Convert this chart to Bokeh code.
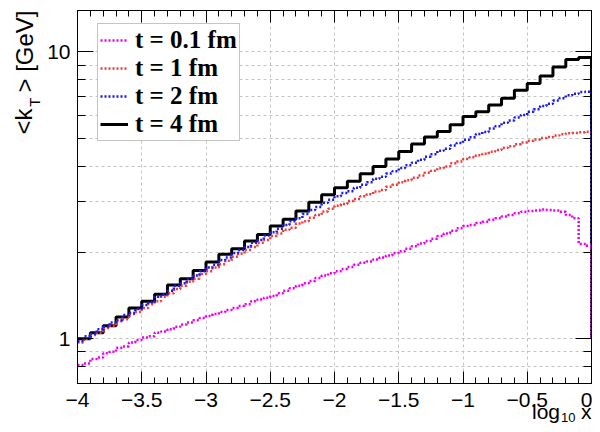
import numpy as np
from bokeh.plotting import figure
from bokeh.models import (Range1d, LogAxis, LinearAxis, SingleIntervalTicker, FixedTicker,
                          Legend, LegendItem, Title, CustomJSTickFormatter)
from bokeh.embed import file_html
from bokeh.resources import INLINE

# ---------------- data ----------------
x_min, x_max = -4.0, 0.0
hist_baseline = 1.0
series_labels = ["t = 0.1 fm", "t = 1 fm", "t = 2 fm", "t = 4 fm"]

kt_t01 = [0.81, 0.82, 0.85, 0.86, 0.89, 0.90, 0.93, 0.94, 0.97, 0.99,
          1.01, 1.02, 1.05, 1.06, 1.08, 1.10, 1.12, 1.14, 1.16, 1.18,
          1.20, 1.22, 1.24, 1.26, 1.28, 1.30, 1.32, 1.35, 1.37, 1.39,
          1.41, 1.44, 1.47, 1.50, 1.53, 1.56, 1.59, 1.63, 1.66, 1.69,
          1.72, 1.75, 1.78, 1.81, 1.84, 1.86, 1.89, 1.92, 1.95, 1.99,
          2.02, 2.06, 2.10, 2.15, 2.19, 2.23, 2.28, 2.33, 2.38, 2.43,
          2.47, 2.49, 2.53, 2.56, 2.60, 2.63, 2.67, 2.70, 2.74, 2.77,
          2.79, 2.80, 2.82, 2.81, 2.80, 2.77, 2.70, 2.63, 2.14, 2.11]

kt_t1 = [0.97, 1.00, 1.03, 1.05, 1.09, 1.11, 1.15, 1.17, 1.22, 1.24,
         1.28, 1.32, 1.35, 1.40, 1.44, 1.49, 1.53, 1.58, 1.62, 1.68,
         1.72, 1.77, 1.82, 1.87, 1.93, 1.98, 2.04, 2.09, 2.16, 2.21,
         2.28, 2.33, 2.40, 2.44, 2.52, 2.57, 2.64, 2.70, 2.78, 2.84,
         2.91, 2.95, 3.02, 3.07, 3.14, 3.19, 3.26, 3.30, 3.39, 3.44,
         3.51, 3.57, 3.64, 3.71, 3.79, 3.85, 3.93, 3.99, 4.09, 4.15,
         4.23, 4.29, 4.36, 4.42, 4.49, 4.55, 4.63, 4.69, 4.77, 4.83,
         4.90, 4.95, 5.01, 5.05, 5.11, 5.16, 5.21, 5.22, 5.25, 5.27]

kt_t2 = [0.98, 1.02, 1.04, 1.08, 1.10, 1.14, 1.16, 1.21, 1.23, 1.27,
         1.31, 1.34, 1.40, 1.43, 1.47, 1.53, 1.56, 1.62, 1.66, 1.72,
         1.77, 1.81, 1.88, 1.92, 1.99, 2.04, 2.09, 2.16, 2.21, 2.29,
         2.35, 2.42, 2.49, 2.57, 2.63, 2.72, 2.81, 2.88, 2.98, 3.05,
         3.14, 3.22, 3.27, 3.36, 3.44, 3.51, 3.61, 3.67, 3.77, 3.84,
         3.94, 4.03, 4.11, 4.21, 4.31, 4.40, 4.52, 4.60, 4.72, 4.81,
         4.94, 5.04, 5.17, 5.26, 5.41, 5.51, 5.66, 5.77, 5.91, 6.03,
         6.19, 6.31, 6.48, 6.60, 6.77, 6.90, 7.06, 7.15, 7.25, 7.27]

kt_t4 = [1.00, 1.05, 1.11, 1.19, 1.28, 1.35, 1.43, 1.54, 1.62, 1.73,
         1.85, 1.97, 2.06, 2.19, 2.31, 2.47, 2.61, 2.79, 2.99, 3.18,
         3.36, 3.54, 3.76, 3.99, 4.23, 4.50, 4.78, 5.05, 5.28, 5.57,
         5.95, 6.19, 6.53, 6.89, 7.36, 7.77, 8.24, 8.87, 9.41, 9.56]

y_major = [1, 10]
y_minor = [0.8, 0.9, 2, 3, 4, 5, 6, 7, 8, 9]
x_tick_labels = {-4: "\u22124", -3.5: "\u22123.5", -3: "\u22123", -2.5: "\u22122.5",
                 -2: "\u22122", -1.5: "\u22121.5", -1: "\u22121", -0.5: "\u22120.5", 0: "0"}

# ---------------- figure ----------------
p = figure(width=592, height=424, x_range=Range1d(x_min, x_max),
           y_range=Range1d(0.698, 13.95), y_axis_type="log",
           output_backend="svg", toolbar_location=None,
           min_border_left=77, min_border_right=1, min_border_top=10,
           min_border_bottom=41)
p.outline_line_color = "black"
p.background_fill_color = "white"
p.border_fill_color = "white"

xticker = SingleIntervalTicker(interval=0.5, num_minor_ticks=5)
yticker = FixedTicker(ticks=y_major, minor_ticks=y_minor)

SANS = "Liberation Sans"

xa = p.xaxis[0]
xa.ticker = xticker
xa.major_label_overrides = x_tick_labels
xa.major_tick_in = 12
xa.major_tick_out = 0
xa.minor_tick_in = 6
xa.minor_tick_out = 0
xa.major_label_text_font = SANS
xa.major_label_text_font_size = "21px"
xa.major_label_text_color = "black"
xa.major_label_standoff = 9
xa.axis_line_color = "black"

ya = p.yaxis[0]
ya.ticker = yticker
ya.major_label_overrides = {1: "1", 10: "10"}
ya.major_tick_in = 16
ya.major_tick_out = 0
ya.minor_tick_in = 8
ya.minor_tick_out = 0
ya.major_label_text_font = SANS
ya.major_label_text_font_size = "21px"
ya.major_label_text_color = "black"
ya.major_label_standoff = 7
ya.axis_line_color = "black"

blank = CustomJSTickFormatter(code="return ''")
top_axis = LinearAxis(ticker=xticker, formatter=blank, major_tick_in=12, major_tick_out=0,
                      minor_tick_in=6, minor_tick_out=0,
                      major_label_text_font_size="1px", major_label_standoff=0)
p.add_layout(top_axis, "above")
right_axis = LogAxis(ticker=yticker, formatter=blank, major_tick_in=16, major_tick_out=0,
                     minor_tick_in=8, minor_tick_out=0,
                     major_label_text_font_size="1px", major_label_standoff=0)
p.add_layout(right_axis, "right")

p.xgrid.ticker = xticker
p.ygrid.ticker = yticker
for g in (p.xgrid[0], p.ygrid[0]):
    g.grid_line_color = "#c4c4c4"
    g.grid_line_dash = "3 3"
    g.grid_line_width = 1
p.ygrid.minor_grid_line_color = "#c4c4c4"
p.ygrid.minor_grid_line_dash = "3 3"

# ---------------- histograms ----------------
def hist_xy(vals):
    edges = np.linspace(x_min, x_max, len(vals) + 1)
    ys = list(vals) + [hist_baseline]
    return list(edges), ys

styles = [
    dict(color="black", line_width=3, line_dash="solid"),       # t=4
    dict(color="#ee3b3b", line_width=2.5, line_dash="2 2"),     # t=1
    dict(color="#1a1aee", line_width=2.5, line_dash="2 2"),     # t=2
    dict(color="#ee00ee", line_width=2.5, line_dash="2 2"),     # t=0.1
]
data_order = [kt_t4, kt_t1, kt_t2, kt_t01]
renderers = []
for vals, st in zip(data_order, styles):
    xs, ys = hist_xy(vals)
    r = p.step(x=xs, y=ys, mode="after", line_color=st["color"],
               line_width=st["line_width"], line_dash=st["line_dash"])
    renderers.append(r)
r_t4, r_t1, r_t2, r_t01 = renderers

legend = Legend(items=[LegendItem(label=series_labels[0], renderers=[r_t01]),
                       LegendItem(label=series_labels[1], renderers=[r_t1]),
                       LegendItem(label=series_labels[2], renderers=[r_t2]),
                       LegendItem(label=series_labels[3], renderers=[r_t4])],
                location=(20, 242))
legend.label_text_font = "Liberation Serif"
legend.label_text_font_style = "bold"
legend.label_text_font_size = "25px"
legend.label_text_color = "black"
legend.label_height = 28
legend.glyph_height = 28
legend.glyph_width = 28
legend.label_standoff = 7
legend.spacing = 0
legend.padding = 2
legend.margin = 0
legend.border_line_color = "#8c8c8c"
legend.border_line_width = 1
legend.background_fill_color = "white"
legend.background_fill_alpha = 1.0
p.add_layout(legend, "center")

# ---------------- axis titles (side-panel titles, pieces for subscripts) ----------------
def side_title(text, size, offset, standoff, align="right"):
    return Title(text=text, align=align, vertical_align="middle", offset=offset,
                 standoff=standoff, text_font=SANS, text_font_size=size,
                 text_font_style="normal", text_color="black")

# x title: log_10 x, right aligned under the axis (em space leaves room for the subscript)
p.add_layout(side_title("log\u2003x", "21px", 0, -21), "below")
p.add_layout(side_title("10", "13px", 16, -4), "below")

# y title: <k_T> [GeV], at the top of the left side
p.add_layout(side_title("T", "15px", 87, 0.6), "left")
p.add_layout(side_title("> [GeV]", "24px", 0, -28), "left")
p.add_layout(side_title("<k", "24px", 98, -28), "left")

open("out.html", "w").write(file_html(p, INLINE))
